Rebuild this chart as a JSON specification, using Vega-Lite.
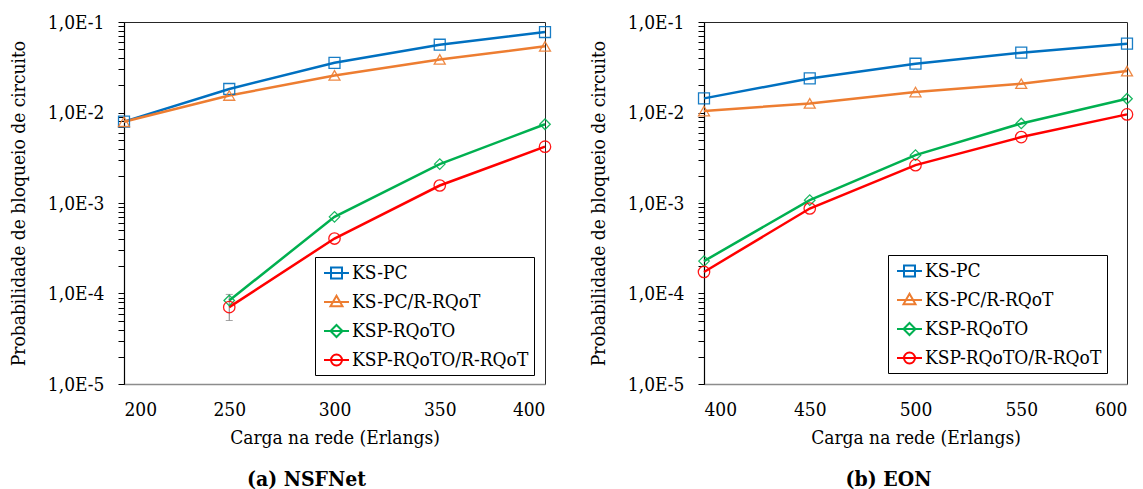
{
  "$schema": "https://vega.github.io/schema/vega-lite/v6.json",
  "background": "white",
  "padding": {"left": 8, "top": 12, "right": 0, "bottom": 0},
  "config": {
    "font": "DejaVu Serif Condensed, DejaVu Serif",
    "title": {"font": "DejaVu Serif Condensed, DejaVu Serif"},
    "legend": {"labelFont": "DejaVu Serif Condensed, DejaVu Serif"},
    "view": {"stroke": "#262626", "strokeWidth": 1},
    "axis": {
      "labelFont": "DejaVu Serif Condensed, DejaVu Serif",
      "labelFontSize": 19,
      "labelColor": "black",
      "titleFont": "DejaVu Serif Condensed, DejaVu Serif",
      "titleFontSize": 19,
      "titleFontWeight": "normal",
      "titleColor": "black",
      "grid": false
    }
  },
  "datasets": {
    "nsf": [
      {"load": 200, "series": "KS-PC", "value": 0.00792},
      {"load": 250, "series": "KS-PC", "value": 0.0182},
      {"load": 300, "series": "KS-PC", "value": 0.0354},
      {"load": 350, "series": "KS-PC", "value": 0.0561},
      {"load": 400, "series": "KS-PC", "value": 0.0775},
      {"load": 200, "series": "KS-PC/R-RQoT", "value": 0.0079},
      {"load": 250, "series": "KS-PC/R-RQoT", "value": 0.0154},
      {"load": 300, "series": "KS-PC/R-RQoT", "value": 0.0257},
      {"load": 350, "series": "KS-PC/R-RQoT", "value": 0.0386},
      {"load": 400, "series": "KS-PC/R-RQoT", "value": 0.0538},
      {"load": 250, "series": "KSP-RQoTO", "value": 0.0000838},
      {"load": 300, "series": "KSP-RQoTO", "value": 0.000703},
      {"load": 350, "series": "KSP-RQoTO", "value": 0.00269},
      {"load": 400, "series": "KSP-RQoTO", "value": 0.00741},
      {"load": 250, "series": "KSP-RQoTO/R-RQoT", "value": 0.0000707},
      {"load": 300, "series": "KSP-RQoTO/R-RQoT", "value": 0.000405},
      {"load": 350, "series": "KSP-RQoTO/R-RQoT", "value": 0.00156},
      {"load": 400, "series": "KSP-RQoTO/R-RQoT", "value": 0.00419}
    ],
    "nsf_err": [
      {"load": 250, "value": 0.0000503, "hi": 0.0000977}
    ],
    "eon": [
      {"load": 400, "series": "KS-PC", "value": 0.01432},
      {"load": 450, "series": "KS-PC", "value": 0.0238},
      {"load": 500, "series": "KS-PC", "value": 0.0346},
      {"load": 550, "series": "KS-PC", "value": 0.0458},
      {"load": 600, "series": "KS-PC", "value": 0.0576},
      {"load": 400, "series": "KS-PC/R-RQoT", "value": 0.01038},
      {"load": 450, "series": "KS-PC/R-RQoT", "value": 0.0126},
      {"load": 500, "series": "KS-PC/R-RQoT", "value": 0.01683},
      {"load": 550, "series": "KS-PC/R-RQoT", "value": 0.0208},
      {"load": 600, "series": "KS-PC/R-RQoT", "value": 0.0287},
      {"load": 400, "series": "KSP-RQoTO", "value": 0.000228},
      {"load": 450, "series": "KSP-RQoTO", "value": 0.001075},
      {"load": 500, "series": "KSP-RQoTO", "value": 0.00338},
      {"load": 550, "series": "KSP-RQoTO", "value": 0.00757},
      {"load": 600, "series": "KSP-RQoTO", "value": 0.01419},
      {"load": 400, "series": "KSP-RQoTO/R-RQoT", "value": 0.000173},
      {"load": 450, "series": "KSP-RQoTO/R-RQoT", "value": 0.000869},
      {"load": 500, "series": "KSP-RQoTO/R-RQoT", "value": 0.00262},
      {"load": 550, "series": "KSP-RQoTO/R-RQoT", "value": 0.00535},
      {"load": 600, "series": "KSP-RQoTO/R-RQoT", "value": 0.00953}
    ]
  },
  "spacing": 34,
  "resolve": {
    "scale": {"x": "independent", "y": "independent", "color": "independent"},
    "legend": {"color": "independent"}
  },
  "hconcat": [
    {
      "width": 421,
      "height": 362,
      "title": {"text": "(a) NSFNet", "orient": "bottom", "anchor": "middle", "frame": "group", "dx": -28, "offset": 22, "fontSize": 21, "fontWeight": "bold", "color": "black"},
      "encoding": {
        "x": {"field": "load", "type": "quantitative",
              "scale": {"domain": [200, 400], "nice": false, "zero": false},
              "axis": {"title": "Carga na rede (Erlangs)", "values": [200, 250, 300, 350, 400], "ticks": false, "tickSize": 0, "labelPadding": 16, "titlePadding": 9, "domainColor": "#8c8c8c", "domainWidth": 1.5}},
        "y": {"field": "value", "type": "quantitative",
              "scale": {"type": "log", "domain": [0.00001, 0.1], "nice": false},
              "axis": {"title": "Probabilidade de bloqueio de circuito",
                       "values": [0.00001, 0.00002, 0.00003, 0.00004, 0.00005, 0.00006, 0.00007, 0.00008, 0.00009, 0.0001, 0.0002, 0.0003, 0.0004, 0.0005, 0.0006, 0.0007, 0.0008, 0.0009, 0.001, 0.002, 0.003, 0.004, 0.005, 0.006, 0.007, 0.008, 0.009, 0.01, 0.02, 0.03, 0.04, 0.05, 0.06, 0.07, 0.08, 0.09, 0.1],
                       "labelExpr": "abs(log(datum.value)/LN10 - round(log(datum.value)/LN10)) < 0.01 ? '1,0E' + round(log(datum.value)/LN10) : ''",
                       "labelOverlap": false,
                       "tickSize": 6, "tickColor": "black", "tickWidth": 1,
                       "labelPadding": 14, "titlePadding": 19,
                       "domainColor": "black", "domainWidth": 1.2,
                       "encode": {"ticks": {"update": {"x2": {"signal": "abs(log(datum.value)/LN10 - round(log(datum.value)/LN10)) < 0.01 ? -6 : 4"}}}}}}
      },
      "layer": [
        {
          "data": {"name": "nsf_err"},
          "mark": {"type": "errorbar", "ticks": {"size": 7}, "color": "#7f7f7f"},
          "encoding": {"y2": {"field": "hi"}}
        },
        {
          "data": {"name": "nsf"},
          "mark": {"type": "line", "strokeWidth": 2.5},
          "encoding": {
            "color": {"field": "series", "type": "nominal",
                      "scale": {"domain": ["KS-PC", "KS-PC/R-RQoT", "KSP-RQoTO", "KSP-RQoTO/R-RQoT"], "range": ["#0070C0", "#ED7D31", "#00B050", "#FF0000"]},
                      "legend": {"orient": "none", "legendX": 191, "legendY": 235, "title": null, "padding": 5, "strokeColor": "black", "fillColor": "white", "labelFontSize": 19, "labelColor": "black", "labelLimit": 400, "symbolSize": 400, "symbolStrokeWidth": 2, "symbolOffset": 5.5, "labelOffset": 4.5, "rowPadding": 8,
                                 "encode": {"symbols": {"update": {"fill": {"value": "transparent"}, "shape": {"signal": "datum.value === 'KS-PC' ? 'M-1.25,0H1.25M-0.55,-0.55H0.55V0.55H-0.55Z' : datum.value === 'KS-PC/R-RQoT' ? 'M-1.25,0H1.25M0,-0.62L0.6,0.42H-0.6Z' : datum.value === 'KSP-RQoTO' ? 'M-1.25,0H1.25M0,-0.6L0.6,0L0,0.6L-0.6,0Z' : 'M-1.25,0H1.25M0.55,0A0.55,0.55,0,1,1,-0.55,0A0.55,0.55,0,1,1,0.55,0Z'"}}}}}}
          }
        },
        {
          "data": {"name": "nsf"},
          "transform": [{"filter": "datum.series === 'KS-PC'"}],
          "mark": {"type": "point", "shape": "square", "filled": false, "size": 120, "strokeWidth": 1.3, "opacity": 0.9},
          "encoding": {"color": {"field": "series", "type": "nominal"}}
        },
        {
          "data": {"name": "nsf"},
          "transform": [{"filter": "datum.series === 'KS-PC/R-RQoT'"}],
          "mark": {"type": "point", "shape": "triangle-up", "filled": false, "size": 120, "strokeWidth": 1.3, "opacity": 0.9},
          "encoding": {"color": {"field": "series", "type": "nominal"}}
        },
        {
          "data": {"name": "nsf"},
          "transform": [{"filter": "datum.series === 'KSP-RQoTO'"}],
          "mark": {"type": "point", "shape": "diamond", "filled": false, "size": 110, "strokeWidth": 1.3, "opacity": 0.9},
          "encoding": {"color": {"field": "series", "type": "nominal"}}
        },
        {
          "data": {"name": "nsf"},
          "transform": [{"filter": "datum.series === 'KSP-RQoTO/R-RQoT'"}],
          "mark": {"type": "point", "shape": "circle", "filled": false, "size": 130, "strokeWidth": 1.3, "opacity": 0.9},
          "encoding": {"color": {"field": "series", "type": "nominal"}}
        }
      ]
    },
    {
      "width": 423,
      "height": 362,
      "title": {"text": "(b) EON", "orient": "bottom", "anchor": "middle", "frame": "group", "dx": -27, "offset": 22, "fontSize": 21, "fontWeight": "bold", "color": "black"},
      "encoding": {
        "x": {"field": "load", "type": "quantitative",
              "scale": {"domain": [400, 600], "nice": false, "zero": false},
              "axis": {"title": "Carga na rede (Erlangs)", "values": [400, 450, 500, 550, 600], "ticks": false, "tickSize": 0, "labelPadding": 16, "titlePadding": 9, "domainColor": "#8c8c8c", "domainWidth": 1.5}},
        "y": {"field": "value", "type": "quantitative",
              "scale": {"type": "log", "domain": [0.00001, 0.1], "nice": false},
              "axis": {"title": "Probabilidade de bloqueio de circuito",
                       "values": [0.00001, 0.00002, 0.00003, 0.00004, 0.00005, 0.00006, 0.00007, 0.00008, 0.00009, 0.0001, 0.0002, 0.0003, 0.0004, 0.0005, 0.0006, 0.0007, 0.0008, 0.0009, 0.001, 0.002, 0.003, 0.004, 0.005, 0.006, 0.007, 0.008, 0.009, 0.01, 0.02, 0.03, 0.04, 0.05, 0.06, 0.07, 0.08, 0.09, 0.1],
                       "labelExpr": "abs(log(datum.value)/LN10 - round(log(datum.value)/LN10)) < 0.01 ? '1,0E' + round(log(datum.value)/LN10) : ''",
                       "labelOverlap": false,
                       "tickSize": 6, "tickColor": "black", "tickWidth": 1,
                       "labelPadding": 14, "titlePadding": 19,
                       "domainColor": "black", "domainWidth": 1.2,
                       "encode": {"ticks": {"update": {"x2": {"signal": "abs(log(datum.value)/LN10 - round(log(datum.value)/LN10)) < 0.01 ? -6 : 4"}}}}}}
      },
      "layer": [
        {
          "data": {"name": "eon"},
          "mark": {"type": "line", "strokeWidth": 2.5},
          "encoding": {
            "color": {"field": "series", "type": "nominal",
                      "scale": {"domain": ["KS-PC", "KS-PC/R-RQoT", "KSP-RQoTO", "KSP-RQoTO/R-RQoT"], "range": ["#0070C0", "#ED7D31", "#00B050", "#FF0000"]},
                      "legend": {"orient": "none", "legendX": 184, "legendY": 233, "title": null, "padding": 5, "strokeColor": "black", "fillColor": "white", "labelFontSize": 19, "labelColor": "black", "labelLimit": 400, "symbolSize": 400, "symbolStrokeWidth": 2, "symbolOffset": 5.5, "labelOffset": 4.5, "rowPadding": 8,
                                 "encode": {"symbols": {"update": {"fill": {"value": "transparent"}, "shape": {"signal": "datum.value === 'KS-PC' ? 'M-1.25,0H1.25M-0.55,-0.55H0.55V0.55H-0.55Z' : datum.value === 'KS-PC/R-RQoT' ? 'M-1.25,0H1.25M0,-0.62L0.6,0.42H-0.6Z' : datum.value === 'KSP-RQoTO' ? 'M-1.25,0H1.25M0,-0.6L0.6,0L0,0.6L-0.6,0Z' : 'M-1.25,0H1.25M0.55,0A0.55,0.55,0,1,1,-0.55,0A0.55,0.55,0,1,1,0.55,0Z'"}}}}}}
          }
        },
        {
          "data": {"name": "eon"},
          "transform": [{"filter": "datum.series === 'KS-PC'"}],
          "mark": {"type": "point", "shape": "square", "filled": false, "size": 120, "strokeWidth": 1.3, "opacity": 0.9},
          "encoding": {"color": {"field": "series", "type": "nominal"}}
        },
        {
          "data": {"name": "eon"},
          "transform": [{"filter": "datum.series === 'KS-PC/R-RQoT'"}],
          "mark": {"type": "point", "shape": "triangle-up", "filled": false, "size": 120, "strokeWidth": 1.3, "opacity": 0.9},
          "encoding": {"color": {"field": "series", "type": "nominal"}}
        },
        {
          "data": {"name": "eon"},
          "transform": [{"filter": "datum.series === 'KSP-RQoTO'"}],
          "mark": {"type": "point", "shape": "diamond", "filled": false, "size": 110, "strokeWidth": 1.3, "opacity": 0.9},
          "encoding": {"color": {"field": "series", "type": "nominal"}}
        },
        {
          "data": {"name": "eon"},
          "transform": [{"filter": "datum.series === 'KSP-RQoTO/R-RQoT'"}],
          "mark": {"type": "point", "shape": "circle", "filled": false, "size": 130, "strokeWidth": 1.3, "opacity": 0.9},
          "encoding": {"color": {"field": "series", "type": "nominal"}}
        }
      ]
    }
  ]
}
